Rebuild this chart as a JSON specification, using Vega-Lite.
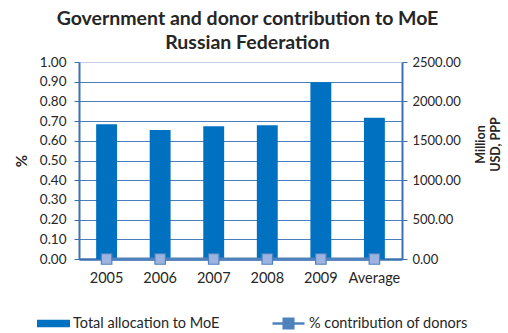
{
  "$schema": "https://vega.github.io/schema/vega-lite/v6.json",
  "width": 323,
  "height": 197,
  "padding": {"left": 14, "top": 8, "right": 5, "bottom": 2},
  "config": {"view": {"stroke": null}, "font": "Lato"},
  "title": {
    "text": ["Government and donor contribution to MoE", "Russian Federation"],
    "font": "Lato", "fontSize": 19.5, "fontWeight": "bold", "color": "#262626",
    "anchor": "middle", "lineHeight": 24, "offset": 2, "dx": 7
  },
  "data": {"values": [
    {"year": "2005", "total": 1710, "pct": 0},
    {"year": "2006", "total": 1637, "pct": 0},
    {"year": "2007", "total": 1684, "pct": 0},
    {"year": "2008", "total": 1697, "pct": 0},
    {"year": "2009", "total": 2242, "pct": 0},
    {"year": "Average", "total": 1794, "pct": 0}
  ]},
  "encoding": {
    "x": {
      "field": "year", "type": "ordinal", "sort": null,
      "scale": {"paddingInner": 0.61, "paddingOuter": 0.32},
      "axis": {
        "title": null, "labelAngle": 0, "ticks": false,
        "domainColor": "#3C72B0", "domainWidth": 2.5,
        "labelFont": "Lato", "labelFontSize": 14.5, "labelColor": "#262626",
        "labelPadding": 12
      }
    }
  },
  "layer": [
    {
      "mark": {"type": "bar", "color": "#0070C0"},
      "encoding": {
        "y": {
          "field": "total", "type": "quantitative",
          "scale": {"domain": [0, 2500]},
          "axis": {
            "orient": "right", "values": [0, 500, 1000, 1500, 2000, 2500],
            "format": ".2f", "grid": false,
            "domainColor": "#3C72B0", "domainWidth": 2, "tickColor": "#3C72B0", "tickSize": 5,
            "labelFont": "Lato", "labelFontSize": 13, "labelColor": "#262626", "labelPadding": 5,
            "title": ["Million", "USD, PPP"], "titleFont": "Lato", "titleFontSize": 12.5,
            "titleFontWeight": "bold", "titleColor": "#262626", "titlePadding": 12,
            "titleAngle": 270, "titleY": 82, "titleLineHeight": 15
          }
        },
        "color": {
          "datum": "Total allocation  to MoE",
          "scale": {"range": ["#0070C0"]},
          "legend": {
            "title": null, "orient": "none", "legendX": -43, "legendY": 244,
            "symbolType": "M-1,-0.22L1,-0.22L1,0.22L-1,0.22Z", "symbolSize": 1089,
            "labelFont": "Lato", "labelFontSize": 14.5, "labelColor": "#262626", "labelOffset": 2
          }
        }
      }
    },
    {
      "mark": {
        "type": "line", "strokeWidth": 3,
        "point": {"shape": "square", "filled": true, "fill": "#9DB3E0", "stroke": "#4F81BD", "strokeWidth": 1.2, "size": 110}
      },
      "encoding": {
        "y": {
          "field": "pct", "type": "quantitative",
          "scale": {"domain": [0, 1]},
          "axis": {
            "orient": "left", "values": [0, 0.1, 0.2, 0.3, 0.4, 0.5, 0.6, 0.7, 0.8, 0.9, 1.0],
            "format": ".2f",
            "grid": true,
            "gridColor": {"condition": {"test": "datum.value == 1", "value": "#C5D3E8"}, "value": "#4A7EBB"},
            "gridWidth": 1.2,
            "domainColor": "#3C72B0", "domainWidth": 2, "tickColor": "#3C72B0", "tickSize": 5,
            "labelFont": "Lato", "labelFontSize": 13.5, "labelColor": "#262626", "labelPadding": 8,
            "title": "%", "titleFont": "Lato", "titleFontSize": 15, "titleFontWeight": "bold",
            "titleColor": "#262626", "titlePadding": 10
          }
        },
        "color": {
          "datum": "% contribution of donors",
          "scale": {"range": ["#4F81BD"]},
          "legend": {
            "title": null, "orient": "none", "legendX": 192, "legendY": 244,
            "symbolType": "M-1,0L-0.3,0M0.3,0L1,0M-0.3,-0.3L0.3,-0.3L0.3,0.3L-0.3,0.3Z",
            "symbolSize": 1024,
            "labelFont": "Lato", "labelFontSize": 14.5, "labelColor": "#262626", "labelOffset": 3,
            "encode": {"symbols": {"update": {"fill": {"value": "#9DB3E0"}, "stroke": {"value": "#4F81BD"}, "strokeWidth": {"value": 2.5}, "opacity": {"value": 1}}}}
          }
        }
      }
    }
  ],
  "resolve": {"scale": {"y": "independent", "color": "independent"}}
}
